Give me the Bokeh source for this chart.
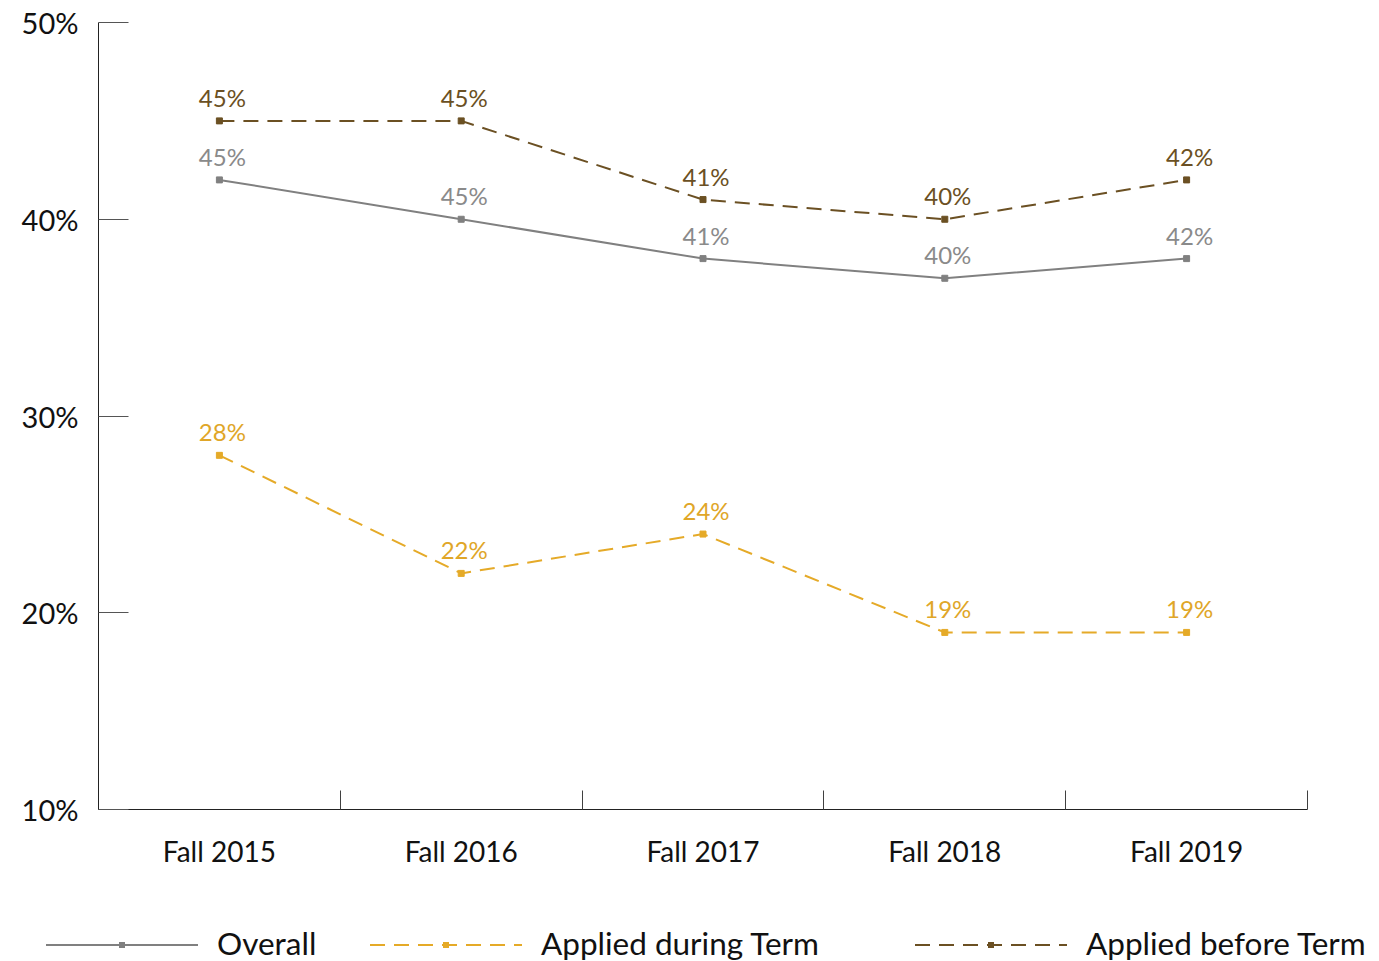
from bokeh.plotting import figure
from bokeh.models import ColumnDataSource, FixedTicker, Div
from bokeh.layouts import column
from bokeh.core.properties import value
from bokeh.embed import file_html
from bokeh.resources import INLINE

categories = ["Fall 2015", "Fall 2016", "Fall 2017", "Fall 2018", "Fall 2019"]
overall = [42, 40, 38, 37, 38]
overall_labels = ["45%", "45%", "41%", "40%", "42%"]
during = [28, 22, 24, 19, 19]
during_labels = ["28%", "22%", "24%", "19%", "19%"]
before = [45, 45, 41, 40, 42]
before_labels = ["45%", "45%", "41%", "40%", "42%"]
y_ticks = [10, 20, 30, 40, 50]

FONT = "Lato"
xs = [i + 0.5 for i in range(len(categories))]

p = figure(width=1379, height=890, x_range=(0, len(categories)), y_range=(10, 50),
           output_backend="svg", toolbar_location=None,
           min_border_left=98, min_border_right=72, min_border_top=22, min_border_bottom=81)
p.outline_line_color = None
p.grid.visible = False
p.background_fill_color = "white"
p.border_fill_color = "white"

# x axis: labels at category centres, ticks between categories
p.xaxis.ticker = FixedTicker(ticks=xs, minor_ticks=list(range(len(categories) + 1)))
p.xaxis.major_label_overrides = {x: c for x, c in zip(xs, categories)}
p.xaxis.major_tick_in = 0
p.xaxis.major_tick_out = 0
p.xaxis.minor_tick_in = 19
p.xaxis.minor_tick_out = 0
p.xaxis.minor_tick_line_color = "#404040"
p.xaxis.axis_line_color = "#222222"
p.xaxis.major_label_text_font = FONT
p.xaxis.major_label_text_font_size = "28px"
p.xaxis.major_label_text_color = "#111111"
p.xaxis.major_label_standoff = 24

# y axis
p.yaxis.ticker = FixedTicker(ticks=y_ticks, minor_ticks=[])
p.yaxis.major_label_overrides = {t: f"{t}%" for t in y_ticks}
p.yaxis.major_tick_in = 30
p.yaxis.major_tick_out = 0
p.yaxis.major_tick_line_color = "#555555"
p.yaxis.axis_line_color = "#222222"
p.yaxis.major_label_text_font = FONT
p.yaxis.major_label_text_font_size = "29px"
p.yaxis.major_label_text_color = "#111111"
p.yaxis.major_label_standoff = 20

series = [
    ("Overall", overall, overall_labels, "#808080", "#8a8a8a", "solid"),
    ("Applied during Term", during, during_labels, "#E5AA28", "#E0A628", "15 9"),
    ("Applied before Term", before, before_labels, "#6B5023", "#6B5023", "15 9"),
]

for name, vals, labs, col, tcol, dash in series:
    src = ColumnDataSource(dict(x=xs, y=vals, lab=labs))
    p.line("x", "y", source=src, line_color=col, line_width=2, line_dash=dash)
    p.scatter("x", "y", source=src, marker="square", size=6, fill_color=col, line_color=col)
    p.text("x", "y", text="lab", source=src, text_color=tcol, text_font=value(FONT),
           text_font_size="24px", text_align="center", text_baseline="bottom",
           x_offset=3, y_offset=-9)

# legend strip (layout only)
legend_x = [46, 370, 915]
GW, LINE_Y, STANDOFF = 152, 55, 19
svg_parts, spans = [], []
for (name, vals, labs, col, tcol, dash), lx in zip(series, legend_x):
    da = "" if dash == "solid" else f' stroke-dasharray="{dash}"'
    svg_parts.append(f'<line x1="{lx}" y1="{LINE_Y}" x2="{lx + GW}" y2="{LINE_Y}" '
                     f'stroke="{col}" stroke-width="2"{da}/>')
    svg_parts.append(f'<rect x="{lx + GW / 2 - 3}" y="{LINE_Y - 3}" width="6" height="6" fill="{col}"/>')
    spans.append(f'<span style="position:absolute;left:{lx + GW + STANDOFF}px;top:34px;'
                 f'line-height:38px;white-space:nowrap;">{name}</span>')

html = (f'<div style="position:relative;width:1379px;height:71px;font-family:{FONT};'
        f'font-size:31.5px;color:#111111;">'
        f'<svg width="1379" height="71" style="position:absolute;left:0;top:0;">'
        + "".join(svg_parts) + '</svg>' + "".join(spans) + '</div>')
leg = Div(text=html, width=1379, height=71, margin=(0, 0, 0, 0))

layout = column(p, leg, spacing=0)
open("out.html", "w").write(file_html(layout, INLINE))
